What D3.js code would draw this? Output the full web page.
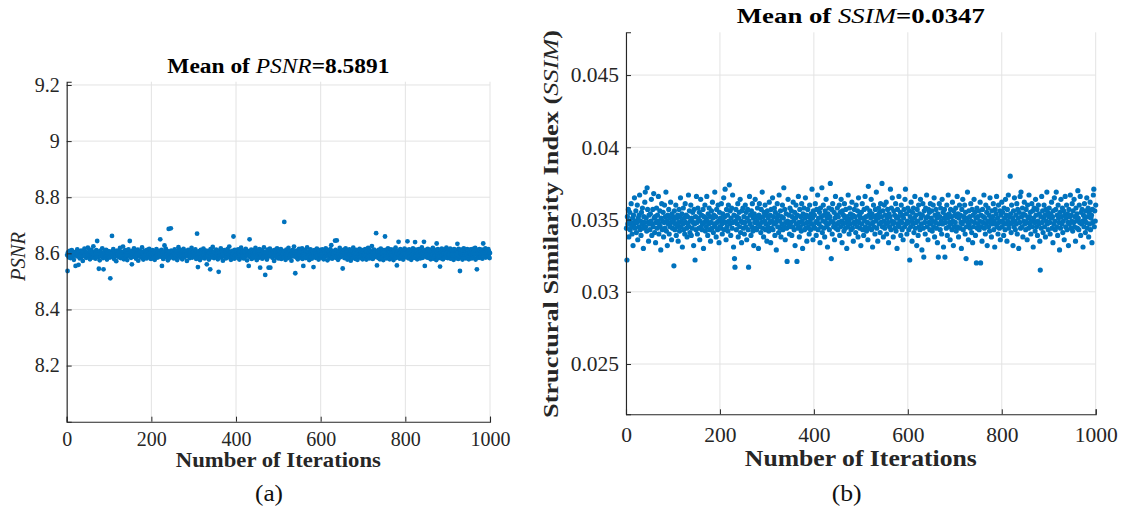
<!DOCTYPE html>
<html><head><meta charset="utf-8">
<script src="https://cdn.jsdelivr.net/npm/d3@7"></script>
<style>
html,body{margin:0;padding:0;background:#fff;}
svg{display:block;font-family:"Liberation Serif","Times New Roman",serif;}
</style></head><body>
<svg id="chart" width="1123" height="519"></svg>
<script>
// ---------- DATA ----------
const xTicks = [0, 200, 400, 600, 800, 1000];
const psnrTicks = [8.2, 8.4, 8.6, 8.8, 9, 9.2];
const ssimTicks = [0.025, 0.03, 0.035, 0.04, 0.045];
const psnrTitle = ["Mean of ", "PSNR", "=8.5891"];
const ssimTitle = ["Mean of ", "SSIM", "=0.0347"];
const xLabel = "Number of Iterations";
const psnrYLabel = "PSNR";
const ssimYLabel = ["Structural Similarity Index (", "SSIM", ")"];
const panelCaptions = ["(a)", "(b)"];

const psnrValues = [
8.594,8.537,8.603,8.598,8.586,8.592,8.609,8.601,8.583,8.597,8.596,8.611,8.590,8.588,8.605,8.599,8.577,8.593,8.602,8.595,8.555,8.604,8.591,8.598,8.614,8.589,8.594,8.559,8.600,8.607,8.582,8.596,8.593,8.610,8.587,8.599,8.601,8.573,8.597,8.604,8.592,8.617,8.590,8.595,8.606,8.584,8.598,8.602,8.593,8.620,
8.599,8.588,8.596,8.608,8.579,8.601,8.594,8.613,8.591,8.597,8.603,8.585,8.625,8.598,8.590,8.606,8.595,8.581,8.600,8.611,8.593,8.644,8.598,8.587,8.604,8.545,8.596,8.575,8.609,8.592,8.589,8.602,8.597,8.618,8.594,8.583,8.543,8.600,8.606,8.591,8.596,8.586,8.612,8.599,8.578,8.603,8.595,8.608,8.590,8.601,
8.597,8.585,8.511,8.606,8.593,8.599,8.662,8.588,8.602,8.615,8.594,8.580,8.599,8.605,8.591,8.596,8.572,8.603,8.610,8.589,8.598,8.594,8.607,8.586,8.600,8.619,8.592,8.583,8.597,8.604,8.590,8.601,8.624,8.595,8.579,8.608,8.596,8.593,8.611,8.587,8.600,8.594,8.576,8.603,8.598,8.614,8.591,8.599,8.644,8.605,
8.593,8.584,8.602,8.561,8.597,8.609,8.590,8.600,8.618,8.595,8.587,8.603,8.596,8.581,8.606,8.592,8.599,8.613,8.574,8.598,8.601,8.594,8.589,8.608,8.597,8.585,8.604,8.621,8.593,8.599,8.578,8.605,8.596,8.591,8.610,8.588,8.600,8.597,8.582,8.612,8.595,8.603,8.590,8.599,8.616,8.586,8.602,8.594,8.580,8.607,
8.598,8.591,8.611,8.583,8.600,8.595,8.606,8.577,8.603,8.596,8.589,8.615,8.599,8.593,8.585,8.604,8.597,8.609,8.592,8.601,8.650,8.588,8.598,8.612,8.555,8.594,8.603,8.580,8.599,8.606,8.628,8.590,8.597,8.617,8.586,8.601,8.595,8.608,8.575,8.600,8.687,8.593,8.605,8.584,8.598,8.689,8.610,8.596,8.589,8.602,
8.595,8.607,8.582,8.599,8.614,8.591,8.600,8.586,8.603,8.597,8.576,8.609,8.594,8.622,8.598,8.588,8.605,8.593,8.611,8.584,8.600,8.596,8.579,8.606,8.592,8.616,8.599,8.587,8.603,8.595,8.590,8.608,8.597,8.573,8.601,8.594,8.612,8.589,8.598,8.605,8.583,8.596,8.610,8.591,8.619,8.600,8.585,8.602,8.597,8.593,
8.606,8.589,8.599,8.614,8.592,8.580,8.603,8.670,8.596,8.551,8.601,8.587,8.608,8.594,8.576,8.599,8.612,8.590,8.597,8.604,8.585,8.600,8.617,8.593,8.598,8.582,8.606,8.595,8.610,8.588,8.561,8.602,8.596,8.591,8.609,8.578,8.599,8.604,8.543,8.615,8.594,8.586,8.601,8.597,8.623,8.590,8.605,8.583,8.598,8.607,
8.592,8.600,8.613,8.587,8.596,8.604,8.579,8.609,8.534,8.598,8.603,8.591,8.596,8.618,8.585,8.600,8.607,8.594,8.574,8.601,8.597,8.611,8.589,8.603,8.595,8.582,8.608,8.599,8.592,8.615,8.586,8.601,8.596,8.624,8.590,8.605,8.598,8.577,8.603,8.594,8.609,8.588,8.600,8.660,8.596,8.581,8.612,8.593,8.602,8.597,
8.590,8.606,8.599,8.584,8.614,8.595,8.601,8.578,8.608,8.593,8.597,8.620,8.586,8.603,8.599,8.591,8.610,8.582,8.600,8.605,8.594,8.588,8.616,8.597,8.603,8.575,8.609,8.592,8.599,8.555,8.601,8.650,8.587,8.606,8.596,8.613,8.580,8.598,8.604,8.591,8.600,8.585,8.611,8.595,8.602,8.619,8.589,8.597,8.576,8.606,
8.598,8.593,8.608,8.584,8.615,8.600,8.549,8.603,8.590,8.596,8.611,8.581,8.599,8.605,8.594,8.621,8.587,8.602,8.523,8.597,8.606,8.590,8.578,8.600,8.613,8.595,8.549,8.604,8.589,8.617,8.549,8.598,8.607,8.592,8.600,8.584,8.610,8.596,8.603,8.573,8.599,8.612,8.591,8.605,8.586,8.597,8.618,8.601,8.594,8.582,
8.603,8.596,8.611,8.588,8.600,8.615,8.580,8.597,8.606,8.592,8.599,8.585,8.609,8.712,8.594,8.602,8.577,8.598,8.613,8.590,8.604,8.596,8.583,8.619,8.600,8.593,8.608,8.587,8.601,8.597,8.574,8.606,8.595,8.612,8.589,8.600,8.624,8.592,8.603,8.529,8.598,8.586,8.610,8.594,8.601,8.579,8.607,8.596,8.616,8.591,
8.600,8.609,8.585,8.597,8.604,8.618,8.580,8.602,8.555,8.595,8.607,8.589,8.599,8.612,8.583,8.601,8.594,8.621,8.597,8.586,8.606,8.592,8.576,8.603,8.598,8.614,8.588,8.600,8.581,8.609,8.595,8.602,8.551,8.597,8.611,8.590,8.605,8.584,8.599,8.593,8.617,8.587,8.603,8.598,8.578,8.608,8.600,8.591,8.612,8.596,
8.585,8.605,8.599,8.614,8.590,8.602,8.579,8.609,8.596,8.601,8.588,8.618,8.593,8.604,8.598,8.575,8.611,8.591,8.600,8.607,8.583,8.597,8.615,8.594,8.629,8.602,8.581,8.608,8.590,8.599,8.596,8.606,8.587,8.645,8.612,8.584,8.600,8.646,8.593,8.604,8.577,8.609,8.595,8.601,8.619,8.586,8.603,8.597,8.610,8.590,
8.599,8.546,8.607,8.592,8.613,8.583,8.601,8.596,8.618,8.588,8.600,8.606,8.578,8.609,8.594,8.602,8.585,8.614,8.597,8.603,8.574,8.610,8.591,8.599,8.607,8.584,8.620,8.596,8.603,8.589,8.605,8.580,8.598,8.612,8.593,8.601,8.577,8.609,8.590,8.604,8.597,8.616,8.586,8.600,8.606,8.583,8.596,8.611,8.579,8.602,
8.591,8.608,8.599,8.584,8.615,8.600,8.593,8.578,8.607,8.597,8.588,8.619,8.596,8.603,8.582,8.611,8.594,8.600,8.606,8.587,8.626,8.598,8.580,8.604,8.593,8.613,8.586,8.601,8.597,8.609,8.672,8.590,8.557,8.600,8.607,8.583,8.612,8.595,8.603,8.579,8.598,8.617,8.591,8.602,8.585,8.608,8.599,8.576,8.611,8.594,
8.603,8.660,8.589,8.612,8.597,8.582,8.606,8.600,8.618,8.587,8.601,8.609,8.579,8.603,8.594,8.614,8.599,8.584,8.610,8.592,8.605,8.576,8.613,8.598,8.602,8.588,8.620,8.583,8.607,8.557,8.596,8.601,8.610,8.641,8.590,8.599,8.581,8.615,8.594,8.606,8.587,8.611,8.597,8.603,8.578,8.608,8.600,8.617,8.589,8.604,
8.594,8.612,8.586,8.603,8.643,8.598,8.607,8.582,8.614,8.600,8.589,8.609,8.603,8.577,8.611,8.596,8.602,8.618,8.585,8.599,8.606,8.584,8.640,8.597,8.613,8.591,8.603,8.579,8.610,8.600,8.587,8.615,8.596,8.605,8.582,8.601,8.608,8.590,8.621,8.598,8.584,8.604,8.599,8.641,8.610,8.555,8.601,8.591,8.612,8.586,
8.603,8.597,8.616,8.584,8.607,8.599,8.611,8.588,8.602,8.579,8.613,8.595,8.606,8.586,8.619,8.600,8.581,8.609,8.603,8.590,8.612,8.597,8.576,8.635,8.604,8.591,8.615,8.583,8.608,8.599,8.587,8.553,8.610,8.601,8.582,8.617,8.596,8.605,8.579,8.611,8.602,8.589,8.614,8.585,8.608,8.598,8.620,8.590,8.604,8.583,
8.607,8.595,8.612,8.586,8.603,8.617,8.581,8.606,8.598,8.611,8.584,8.604,8.600,8.577,8.615,8.591,8.608,8.602,8.612,8.583,8.609,8.597,8.634,8.603,8.580,8.616,8.590,8.605,8.537,8.610,8.601,8.585,8.613,8.597,8.578,8.608,8.594,8.618,8.587,8.605,8.599,8.611,8.582,8.603,8.596,8.615,8.586,8.608,8.601,8.579,
8.610,8.602,8.587,8.614,8.598,8.605,8.582,8.611,8.596,8.616,8.603,8.585,8.608,8.599,8.619,8.578,8.604,8.597,8.543,8.612,8.588,8.607,8.600,8.584,8.615,8.602,8.610,8.586,8.605,8.598,8.613,8.581,8.606,8.635,8.600,8.611,8.589,8.603,8.618,8.585,8.607,8.596,8.612,8.588,8.604,8.615,8.590,8.606,8.583,8.601
];

const ssimValues = [
0.0344,0.0322,0.0352,0.0347,0.0357,0.0338,0.0349,0.0355,0.0343,0.0348,0.0361,0.0345,0.0340,0.0351,0.0332,0.0353,0.0347,0.0365,0.0344,0.0349,0.0356,0.0341,0.0348,0.0360,0.0336,0.0351,0.0345,0.0353,0.0367,0.0343,0.0349,0.0339,0.0355,0.0347,0.0358,0.0344,0.0330,0.0352,0.0348,0.0362,0.0369,0.0345,0.0351,0.0342,0.0372,0.0357,0.0348,0.0335,0.0353,0.0347,
0.0343,0.0354,0.0349,0.0364,0.0339,0.0347,0.0357,0.0345,0.0368,0.0351,0.0341,0.0352,0.0334,0.0348,0.0358,0.0344,0.0353,0.0349,0.0366,0.0340,0.0347,0.0356,0.0345,0.0329,0.0351,0.0361,0.0343,0.0349,0.0355,0.0338,0.0348,0.0360,0.0344,0.0352,0.0369,0.0342,0.0349,0.0332,0.0353,0.0347,0.0357,0.0340,0.0351,0.0345,0.0362,0.0348,0.0336,0.0354,0.0344,0.0352,
0.0349,0.0318,0.0356,0.0343,0.0347,0.0360,0.0339,0.0351,0.0345,0.0353,0.0335,0.0348,0.0357,0.0342,0.0352,0.0365,0.0345,0.0349,0.0354,0.0331,0.0347,0.0358,0.0343,0.0351,0.0340,0.0361,0.0348,0.0353,0.0344,0.0338,0.0352,0.0347,0.0367,0.0345,0.0356,0.0341,0.0349,0.0360,0.0339,0.0351,0.0344,0.0355,0.0348,0.0332,0.0357,0.0347,0.0322,0.0352,0.0343,0.0366,
0.0348,0.0340,0.0358,0.0351,0.0344,0.0355,0.0336,0.0349,0.0364,0.0345,0.0353,0.0343,0.0347,0.0357,0.0330,0.0352,0.0348,0.0360,0.0342,0.0351,0.0345,0.0366,0.0349,0.0339,0.0354,0.0347,0.0358,0.0343,0.0352,0.0335,0.0348,0.0356,0.0344,0.0362,0.0351,0.0341,0.0353,0.0347,0.0369,0.0345,0.0352,0.0338,0.0357,0.0348,0.0343,0.0360,0.0349,0.0334,0.0355,0.0345,
0.0351,0.0344,0.0361,0.0347,0.0340,0.0354,0.0349,0.0365,0.0343,0.0352,0.0371,0.0348,0.0336,0.0357,0.0345,0.0353,0.0342,0.0360,0.0349,0.0374,0.0347,0.0356,0.0339,0.0351,0.0358,0.0344,0.0367,0.0348,0.0331,0.0353,0.0323,0.0317,0.0349,0.0357,0.0343,0.0352,0.0347,0.0361,0.0338,0.0351,0.0355,0.0345,0.0364,0.0341,0.0349,0.0334,0.0356,0.0348,0.0358,0.0344,
0.0352,0.0340,0.0348,0.0360,0.0345,0.0355,0.0336,0.0351,0.0357,0.0343,0.0317,0.0349,0.0366,0.0347,0.0353,0.0339,0.0356,0.0345,0.0361,0.0342,0.0351,0.0332,0.0354,0.0348,0.0364,0.0344,0.0352,0.0343,0.0349,0.0358,0.0347,0.0330,0.0353,0.0361,0.0345,0.0351,0.0341,0.0357,0.0348,0.0369,0.0344,0.0352,0.0338,0.0355,0.0349,0.0360,0.0343,0.0347,0.0353,0.0335,
0.0356,0.0345,0.0351,0.0342,0.0362,0.0348,0.0353,0.0334,0.0357,0.0344,0.0349,0.0365,0.0343,0.0352,0.0347,0.0358,0.0339,0.0355,0.0348,0.0329,0.0351,0.0361,0.0345,0.0353,0.0341,0.0367,0.0349,0.0344,0.0356,0.0338,0.0352,0.0347,0.0360,0.0343,0.0351,0.0372,0.0345,0.0357,0.0336,0.0348,0.0354,0.0344,0.0321,0.0349,0.0364,0.0347,0.0353,0.0340,0.0358,0.0345,
0.0348,0.0356,0.0339,0.0352,0.0345,0.0362,0.0349,0.0343,0.0355,0.0332,0.0351,0.0360,0.0347,0.0321,0.0353,0.0344,0.0366,0.0348,0.0338,0.0357,0.0345,0.0352,0.0342,0.0361,0.0349,0.0330,0.0354,0.0347,0.0358,0.0343,0.0351,0.0365,0.0344,0.0353,0.0335,0.0348,0.0357,0.0345,0.0352,0.0340,0.0360,0.0349,0.0343,0.0354,0.0347,0.0371,0.0351,0.0336,0.0356,0.0345,
0.0353,0.0344,0.0361,0.0348,0.0339,0.0357,0.0349,0.0367,0.0343,0.0351,0.0347,0.0355,0.0334,0.0358,0.0345,0.0352,0.0372,0.0341,0.0349,0.0360,0.0344,0.0353,0.0338,0.0356,0.0348,0.0364,0.0345,0.0351,0.0331,0.0354,0.0347,0.0358,0.0343,0.0352,0.0375,0.0349,0.0323,0.0357,0.0340,0.0361,0.0348,0.0345,0.0355,0.0336,0.0351,0.0366,0.0344,0.0353,0.0347,0.0358,
0.0343,0.0352,0.0348,0.0360,0.0339,0.0355,0.0345,0.0364,0.0349,0.0334,0.0356,0.0347,0.0353,0.0342,0.0361,0.0351,0.0344,0.0357,0.0348,0.0330,0.0352,0.0345,0.0367,0.0349,0.0340,0.0358,0.0347,0.0354,0.0343,0.0351,0.0362,0.0344,0.0353,0.0335,0.0348,0.0357,0.0347,0.0352,0.0341,0.0360,0.0349,0.0345,0.0356,0.0338,0.0365,0.0348,0.0353,0.0344,0.0351,0.0332,
0.0355,0.0347,0.0361,0.0343,0.0351,0.0339,0.0357,0.0349,0.0366,0.0345,0.0352,0.0342,0.0358,0.0348,0.0336,0.0373,0.0353,0.0344,0.0356,0.0347,0.0351,0.0364,0.0343,0.0354,0.0331,0.0348,0.0360,0.0345,0.0352,0.0340,0.0357,0.0349,0.0369,0.0344,0.0353,0.0335,0.0351,0.0358,0.0347,0.0355,0.0341,0.0361,0.0348,0.0352,0.0375,0.0345,0.0356,0.0338,0.0349,0.0360,
0.0344,0.0353,0.0347,0.0362,0.0340,0.0351,0.0357,0.0348,0.0334,0.0354,0.0345,0.0352,0.0371,0.0343,0.0358,0.0349,0.0365,0.0347,0.0338,0.0356,0.0348,0.0353,0.0344,0.0361,0.0342,0.0351,0.0330,0.0357,0.0347,0.0352,0.0366,0.0345,0.0349,0.0355,0.0339,0.0360,0.0348,0.0343,0.0353,0.0336,0.0351,0.0357,0.0345,0.0364,0.0371,0.0347,0.0354,0.0340,0.0349,0.0358,
0.0348,0.0343,0.0356,0.0322,0.0352,0.0345,0.0362,0.0349,0.0335,0.0355,0.0347,0.0358,0.0341,0.0351,0.0366,0.0344,0.0353,0.0348,0.0332,0.0357,0.0349,0.0339,0.0360,0.0345,0.0354,0.0343,0.0364,0.0351,0.0347,0.0329,0.0353,0.0361,0.0344,0.0324,0.0356,0.0348,0.0340,0.0358,0.0351,0.0367,0.0345,0.0352,0.0336,0.0357,0.0348,0.0355,0.0343,0.0361,0.0347,0.0351,
0.0356,0.0342,0.0349,0.0360,0.0345,0.0365,0.0338,0.0353,0.0348,0.0357,0.0344,0.0351,0.0334,0.0354,0.0324,0.0347,0.0361,0.0352,0.0343,0.0358,0.0349,0.0340,0.0364,0.0347,0.0355,0.0331,0.0351,0.0357,0.0324,0.0348,0.0353,0.0344,0.0360,0.0339,0.0351,0.0367,0.0345,0.0354,0.0348,0.0336,0.0357,0.0347,0.0352,0.0343,0.0362,0.0349,0.0332,0.0356,0.0345,0.0353,
0.0348,0.0358,0.0342,0.0352,0.0366,0.0345,0.0354,0.0338,0.0351,0.0360,0.0344,0.0353,0.0348,0.0330,0.0357,0.0347,0.0364,0.0343,0.0352,0.0349,0.0360,0.0340,0.0355,0.0323,0.0345,0.0351,0.0369,0.0348,0.0336,0.0356,0.0347,0.0352,0.0344,0.0361,0.0349,0.0341,0.0357,0.0334,0.0353,0.0345,0.0364,0.0348,0.0355,0.0339,0.0351,0.0320,0.0358,0.0344,0.0352,0.0347,
0.0356,0.0343,0.0349,0.0362,0.0320,0.0353,0.0345,0.0335,0.0357,0.0348,0.0352,0.0367,0.0344,0.0351,0.0340,0.0360,0.0347,0.0355,0.0332,0.0349,0.0358,0.0345,0.0353,0.0342,0.0365,0.0348,0.0351,0.0338,0.0356,0.0347,0.0352,0.0361,0.0343,0.0349,0.0331,0.0357,0.0347,0.0354,0.0366,0.0345,0.0351,0.0340,0.0360,0.0348,0.0344,0.0356,0.0336,0.0353,0.0349,0.0362,
0.0345,0.0355,0.0348,0.0339,0.0358,0.0351,0.0343,0.0364,0.0347,0.0353,0.0335,0.0357,0.0349,0.0367,0.0344,0.0352,0.0347,0.0380,0.0354,0.0341,0.0360,0.0348,0.0351,0.0332,0.0356,0.0345,0.0365,0.0349,0.0343,0.0353,0.0347,0.0361,0.0340,0.0357,0.0351,0.0330,0.0355,0.0348,0.0366,0.0344,0.0369,0.0352,0.0345,0.0358,0.0338,0.0354,0.0349,0.0362,0.0347,0.0353,
0.0343,0.0357,0.0348,0.0336,0.0360,0.0351,0.0344,0.0367,0.0352,0.0347,0.0355,0.0340,0.0349,0.0361,0.0345,0.0356,0.0331,0.0351,0.0358,0.0348,0.0342,0.0364,0.0353,0.0345,0.0357,0.0339,0.0349,0.0360,0.0347,0.0354,0.0335,0.0315,0.0352,0.0344,0.0366,0.0348,0.0356,0.0341,0.0351,0.0360,0.0345,0.0353,0.0338,0.0357,0.0349,0.0369,0.0347,0.0355,0.0343,0.0352,
0.0358,0.0348,0.0340,0.0354,0.0351,0.0362,0.0344,0.0352,0.0334,0.0356,0.0347,0.0365,0.0349,0.0343,0.0357,0.0369,0.0345,0.0353,0.0339,0.0360,0.0351,0.0348,0.0329,0.0355,0.0344,0.0364,0.0352,0.0347,0.0358,0.0341,0.0349,0.0356,0.0336,0.0353,0.0366,0.0345,0.0351,0.0360,0.0343,0.0354,0.0348,0.0332,0.0357,0.0347,0.0352,0.0367,0.0344,0.0353,0.0349,0.0361,
0.0342,0.0356,0.0348,0.0364,0.0345,0.0352,0.0335,0.0358,0.0349,0.0354,0.0344,0.0370,0.0351,0.0343,0.0360,0.0348,0.0366,0.0339,0.0355,0.0347,0.0357,0.0349,0.0331,0.0353,0.0345,0.0361,0.0351,0.0341,0.0356,0.0348,0.0365,0.0344,0.0352,0.0358,0.0338,0.0355,0.0347,0.0362,0.0343,0.0351,0.0353,0.0334,0.0357,0.0348,0.0367,0.0371,0.0345,0.0356,0.0349,0.0360
];

// ---------- DRAW ----------
const svg = d3.select("#chart");
const ink = "#262626", grid = "#e3e3e3", dot = "#0072BD";
const serif = '"Liberation Serif", "Times New Roman", serif';

function panel(cfg) {
  const x = d3.scaleLinear().domain([0, 1000]).range([cfg.left, cfg.right]);
  const y = d3.scaleLinear().domain(cfg.yDomain).range([cfg.bottom, cfg.top]);
  const g = svg.append("g").attr("font-family", serif);

  // grid
  g.append("g").selectAll("line").data(xTicks).join("line")
    .attr("x1", d => x(d)).attr("x2", d => x(d))
    .attr("y1", cfg.top).attr("y2", cfg.bottom)
    .attr("stroke", grid).attr("stroke-width", 1);
  g.append("g").selectAll("line").data(cfg.yTicks).join("line")
    .attr("x1", cfg.left).attr("x2", cfg.right)
    .attr("y1", d => y(d)).attr("y2", d => y(d))
    .attr("stroke", grid).attr("stroke-width", 1);

  // points
  g.append("g").selectAll("circle").data(cfg.values).join("circle")
    .attr("cx", (d, i) => x(i + 1))
    .attr("cy", d => y(d))
    .attr("r", cfg.r)
    .attr("fill", dot);

  // axes
  const ax = g.append("g").attr("transform", `translate(0,${cfg.bottom})`)
    .call(d3.axisBottom(x).tickValues(xTicks).tickFormat(d3.format("d"))
      .tickSize(-5).tickPadding(cfg.xPad));
  const ay = g.append("g").attr("transform", `translate(${cfg.left},0)`)
    .call(d3.axisLeft(y).tickValues(cfg.yTicks).tickFormat(d => String(d))
      .tickSize(-5).tickPadding(cfg.yPad));
  [ax, ay].forEach(a => {
    a.attr("font-family", serif).attr("font-size", cfg.tickFont);
    a.select(".domain").attr("stroke", ink).attr("stroke-width", 1.1);
    a.selectAll(".tick line").attr("stroke", ink);
    a.selectAll("text").attr("fill", ink).style("font-family", serif);
  });

  const cx = (cfg.left + cfg.right) / 2;
  // title
  const t = g.append("text").attr("x", cx).attr("y", cfg.titleY)
    .attr("text-anchor", "middle").attr("fill", "#000")
    .attr("font-size", cfg.titleFont)
    .attr("textLength", cfg.titleLen).attr("lengthAdjust", "spacingAndGlyphs");
  t.append("tspan").attr("font-weight", "bold").text(cfg.title[0]);
  t.append("tspan").attr("font-style", "italic").text(cfg.title[1]);
  t.append("tspan").attr("font-weight", "bold").text(cfg.title[2]);

  // x label
  g.append("text").attr("x", cx).attr("y", cfg.xLabelY)
    .attr("text-anchor", "middle").attr("font-weight", "bold").attr("fill", ink)
    .attr("font-size", cfg.xLabelFont)
    .attr("textLength", cfg.xLabelLen).attr("lengthAdjust", "spacingAndGlyphs")
    .text(xLabel);

  // y label
  const yl = g.append("text")
    .attr("transform", `translate(${cfg.yLabelX},${cfg.yLabelCY}) rotate(-90)`)
    .attr("text-anchor", "middle").attr("fill", ink)
    .attr("font-size", cfg.yLabelFont)
    .attr("textLength", cfg.yLabelLen).attr("lengthAdjust", "spacingAndGlyphs");
  cfg.yLabel.forEach(p => {
    yl.append("tspan").attr("font-weight", p.bold ? "bold" : "normal")
      .attr("font-style", p.italic ? "italic" : "normal").text(p.text);
  });

  // caption
  g.append("text").attr("x", cfg.captionX).attr("y", 501)
    .attr("text-anchor", "middle").attr("fill", "#111")
    .attr("font-size", 24)
    .attr("textLength", cfg.captionLen).attr("lengthAdjust", "spacingAndGlyphs")
    .text(cfg.caption);
}

panel({
  left: 66.7, right: 490, top: 81.7, bottom: 421.7,
  yDomain: [8.0, 9.2117], yTicks: psnrTicks, values: psnrValues, r: 2.4,
  tickFont: 20, xPad: 10, yPad: 7,
  title: psnrTitle, titleY: 73, titleFont: 20.5, titleLen: 222,
  xLabelY: 467, xLabelFont: 21, xLabelLen: 205,
  yLabel: [{text: psnrYLabel, italic: true}], yLabelX: 25, yLabelCY: 256.5, yLabelFont: 20, yLabelLen: 49,
  caption: panelCaptions[0], captionX: 269, captionLen: 28
});

panel({
  left: 626, right: 1095.7, top: 32.3, bottom: 414.3,
  yDomain: [0.02152, 0.04796], yTicks: ssimTicks, values: ssimValues, r: 2.6,
  tickFont: 21.5, xPad: 12, yPad: 7,
  title: ssimTitle, titleY: 23, titleFont: 22, titleLen: 248,
  xLabelY: 466, xLabelFont: 23, xLabelLen: 232,
  yLabel: [{text: ssimYLabel[0], bold: true}, {text: ssimYLabel[1], italic: true}, {text: ssimYLabel[2], bold: true}],
  yLabelX: 558, yLabelCY: 224, yLabelFont: 21.5, yLabelLen: 388,
  caption: panelCaptions[1], captionX: 846.7, captionLen: 30
});
</script>
</body></html>
